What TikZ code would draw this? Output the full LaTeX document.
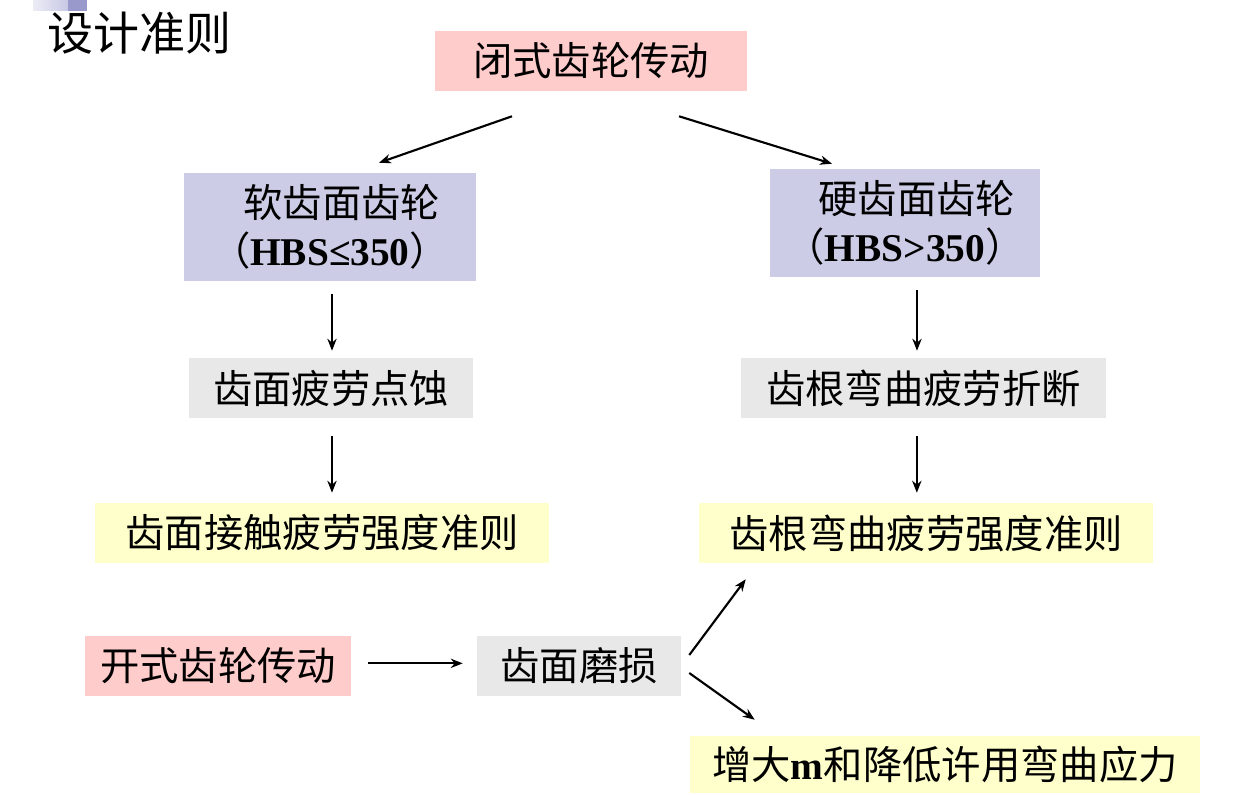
\documentclass[tikz,border=0pt]{standalone}
\usepackage{fontspec}
\setmainfont{Liberation Serif}
\newfontfamily\cjk{Noto Sans CJK SC}
\usetikzlibrary{calc,arrows.meta}

\definecolor{pinkbox}{RGB}{255,204,204}
\definecolor{lilacbox}{RGB}{204,204,230}
\definecolor{greybox}{RGB}{232,232,232}
\definecolor{yellowbox}{RGB}{255,255,204}
\definecolor{barlight}{RGB}{236,236,246}
\definecolor{barmid}{RGB}{200,200,228}
\definecolor{bardark}{RGB}{153,153,204}

\newcommand{\hbs}[1]{{\rmfamily\bfseries #1}}

\begin{document}
\begin{tikzpicture}[x=0.75pt, y=-0.75pt, >={Stealth[length=9pt, width=7pt]},
    conn/.style={->, line width=1.6pt},
    box/.style={inner sep=0pt, align=center, font=\cjk\fontsize{29.5}{36}\selectfont},
    closedbox/.style={box, fill=pinkbox},
    hardnessbox/.style={box, fill=lilacbox, minimum height=81pt},
    failbox/.style={box, fill=greybox, minimum height=45pt},
    rulebox/.style={box, fill=yellowbox, minimum height=45pt}]
            \useasboundingbox (0,0) rectangle (1252,794);
            \fill[left color=barlight, right color=barmid, draw=none] (33,0) rectangle (68,10);
            \fill[bardark] (68,0) rectangle (87,11);
            \node[font=\cjk\fontsize{34.5}{40}\selectfont, inner sep=0pt] (title) at (139,33) {设计准则};

            \node[closedbox, minimum width=234pt, minimum height=45pt] (closed) at (591,61) {闭式齿轮传动};
            \node[hardnessbox, minimum width=219pt] (soft) at (330,227) {\hspace*{0.6em}软齿面齿轮\\（\hbs{HBS≤350}）};
            \node[hardnessbox, minimum width=202.5pt] (hard) at (905,223) {\hspace*{0.6em}硬齿面齿轮\\（\hbs{HBS>350}）};
            \node[failbox, minimum width=213pt] (pit) at (331,388) {齿面疲劳点蚀};
            \node[failbox, minimum width=273.75pt] (break) at (923.5,388) {齿根弯曲疲劳折断};
            \node[rulebox, minimum width=340.5pt] (contact) at (322,533) {齿面接触疲劳强度准则};
            \node[rulebox, minimum width=340.5pt] (bending) at (926,533) {齿根弯曲疲劳强度准则};
            \node[closedbox, minimum width=199.5pt, minimum height=45pt] (open) at (218,666) {开式齿轮传动};
            \node[failbox, minimum width=153pt] (wear) at (579,666) {齿面磨损};
            \node[rulebox, minimum width=382.5pt, minimum height=42.75pt] (increase) at (945,764.5) {增大\hbs{m}和降低许用弯曲应力};

            \draw[conn] ($(closed.south)+(-79,25)$) -- ($(soft.north)+(49,-10)$);
            \draw[conn] ($(closed.south)+(88,25)$) -- ($(hard.north)+(-73,-5)$);
            \draw[conn, shorten <=9.75pt, shorten >=5.25pt] ([xshift=1.5pt]soft.south) -- ([xshift=1.5pt]soft.south |- pit.north);
            \draw[conn, shorten <=9.75pt, shorten >=5.25pt] ([xshift=9pt]hard.south) -- ([xshift=9pt]hard.south |- break.north);
            \draw[conn, shorten <=13.5pt, shorten >=7.5pt] ([xshift=0.75pt]pit.south) -- ([xshift=0.75pt]pit.south |- contact.north);
            \draw[conn, shorten <=13.5pt, shorten >=7.5pt] ([xshift=-5pt]break.south) -- ([xshift=-5pt]break.south |- bending.north);
            \draw[conn, shorten <=12.75pt, shorten >=10.5pt] ([yshift=2pt]open.east) -- ([yshift=2pt]wear.west);
            \draw[conn] ($(wear.east)+(8,-11)$) -- ($(bending.south west)+(47,16)$);
            \draw[conn] ($(wear.east)+(8,7)$) -- ($(increase.north west)+(65,-16)$);
        \end{tikzpicture}
\end{document}
